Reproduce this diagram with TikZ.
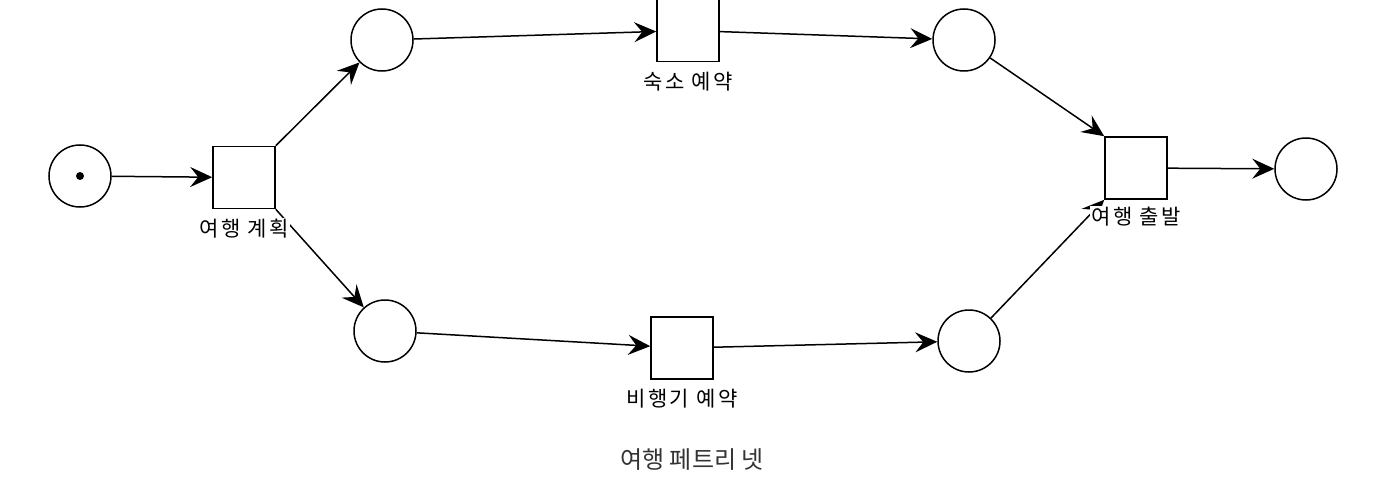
\documentclass[tikz,border=0pt]{standalone}
\usepackage{fontspec}
\setmainfont{Noto Sans CJK KR}
\newfontfamily\lblfont[LetterSpace=12]{Noto Sans CJK KR}
\usetikzlibrary{arrows.meta}
\begin{document}
\begin{tikzpicture}[x=1pt,y=-1pt,
  place/.style={circle,draw,line width=1.5pt,minimum size=62pt,inner sep=0pt},
  trans/.style={rectangle,draw,line width=1.6pt,minimum size=62pt,inner sep=0pt},
  lbl/.style={fill=white,inner sep=1pt,font=\lblfont\fontsize{21}{24}\selectfont},
  arr/.style={line width=1.5pt,-{Stealth[length=22pt,width=20pt,inset=8pt]}}]
\useasboundingbox (0,0) rectangle (1380,492);
\node[place] (s) at (80,176) {};
\fill (s.center) circle (4pt);
\node[trans] (t1) at (244,177.5) {};
\node[place] (p1) at (382,40) {};
\node[place] (p2) at (385,331) {};
\node[trans] (t2) at (688,30.5) {};
\node[trans] (t3) at (682,348) {};
\node[place] (p3) at (964,40) {};
\node[place] (p4) at (969,341) {};
\node[trans] (t4) at (1136,168) {};
\node[place] (pe) at (1306,169) {};
\draw[arr] (s) -- (t1);
\draw[arr] (t1.north east) -- (p1);
\draw[arr] (t1.south east) -- (p2);
\draw[arr] (p1) -- (t2);
\draw[arr] (t2) -- (p3);
\draw[arr] (p3) -- (t4.north west);
\draw[arr] (p4) -- (t4.south west);
\draw[arr] (p2) -- (t3);
\draw[arr] (t3) -- (p4);
\draw[arr] (t4) -- (pe);
\node[lbl] (l1) at ([yshift=-19pt]t1.south) {여행 계획};
\node[lbl] (l2) at ([yshift=-19pt]t2.south) {숙소 예약};
\node[lbl] (l3) at ([yshift=-19pt]t3.south) {비행기 예약};
\node[lbl] (l4) at ([yshift=-17pt]t4.south) {여행 출발};
\node[text=black!80,font=\fontsize{24}{28}\selectfont] (cap) at (692,460) {여행 페트리 넷};
\end{tikzpicture}
\end{document}
